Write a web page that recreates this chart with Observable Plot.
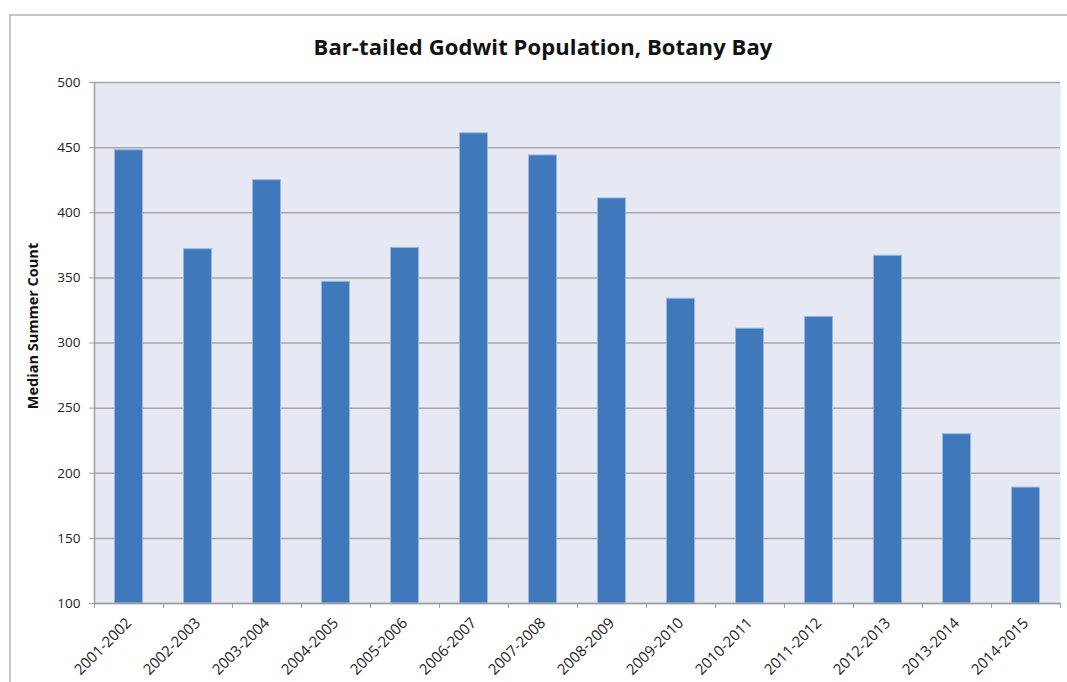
<!DOCTYPE html>
<html><head><meta charset="utf-8">
<script src="https://cdn.jsdelivr.net/npm/d3@7"></script>
<script src="https://cdn.jsdelivr.net/npm/@observablehq/plot@0.6"></script>
<style>
body{margin:0;background:#fff;}
#wrap{position:relative;width:1067px;height:682px;overflow:hidden;}
#border{position:absolute;left:9px;top:14px;width:1100px;height:720px;border:2px solid #c6c6c6;box-sizing:border-box;}
#title{position:absolute;left:9px;width:1068px;top:31px;text-align:center;font:bold 22px "Open Sans";color:#111;letter-spacing:0.1px;}
#chart{position:absolute;left:0;top:0;}
</style></head><body>
<div id="wrap"><div id="border"></div><div id="title">Bar-tailed Godwit Population, Botany Bay</div><div id="chart"></div></div>
<script>
const seasons = ["2001-2002","2002-2003","2003-2004","2004-2005","2005-2006","2006-2007","2007-2008","2008-2009","2009-2010","2010-2011","2011-2012","2012-2013","2013-2014","2014-2015"];
const counts = [448, 372, 425, 347, 373, 461, 444, 411, 334, 311, 320, 367, 230, 189];
const yTicks = [100, 150, 200, 250, 300, 350, 400, 450, 500];
const yLabel = "Median Summer Count";

const data = seasons.map((s, i) => ({season: s, count: counts[i]}));
const W = 1067, H = 682, ML = 94, MR = 7, MT = 82, MB = 79;
const step = (W - ML - MR) / seasons.length;

const chart = Plot.plot({
  width: W, height: H,
  marginLeft: ML, marginRight: MR, marginTop: MT, marginBottom: MB,
  style: {fontFamily: "Open Sans", fontSize: "13px", color: "#222", background: "transparent", overflow: "visible"},
  x: {domain: seasons, padding: 0, label: null},
  y: {domain: [100, 500], label: null},
  marks: [
    Plot.frame({fill: "#e6e9f3"}),
    Plot.gridY(yTicks, {stroke: "#a8a8a8", strokeOpacity: 1, strokeWidth: 1.5}),
    Plot.barY(data, {x: "season", y1: 100, y2: "count", fill: "#3f78bb", stroke: "#9ab8df", strokeWidth: 1, insetLeft: 20.5, insetRight: 20.5}),
    Plot.frame({anchor: "left", stroke: "#a0a0a0", strokeWidth: 1.5}),
    Plot.frame({anchor: "bottom", stroke: "#a0a0a0", strokeWidth: 1.5}),
    Plot.axisY(yTicks, {tickSize: 5, tickPadding: 9, stroke: "#a0a0a0", label: null, fontSize: 13.5}),
    Plot.axisX({tickSize: 0, tickRotate: -45, tickPadding: 17, fontSize: 15, label: null}),
    Plot.axisX(seasons, {tickSize: 5, dx: -step / 2, stroke: "#a0a0a0", tickFormat: () => "", label: null}),
    Plot.axisX(seasons.slice(-1), {tickSize: 5, dx: step / 2, stroke: "#a0a0a0", tickFormat: () => "", label: null}),
    Plot.text([yLabel], {frameAnchor: "left", dx: -61, dy: -17, rotate: -90, textAnchor: "middle", fontWeight: "bold", fontSize: 14.5, fill: "#111"})
  ]
});
document.getElementById("chart").appendChild(chart);
</script>
</body></html>
